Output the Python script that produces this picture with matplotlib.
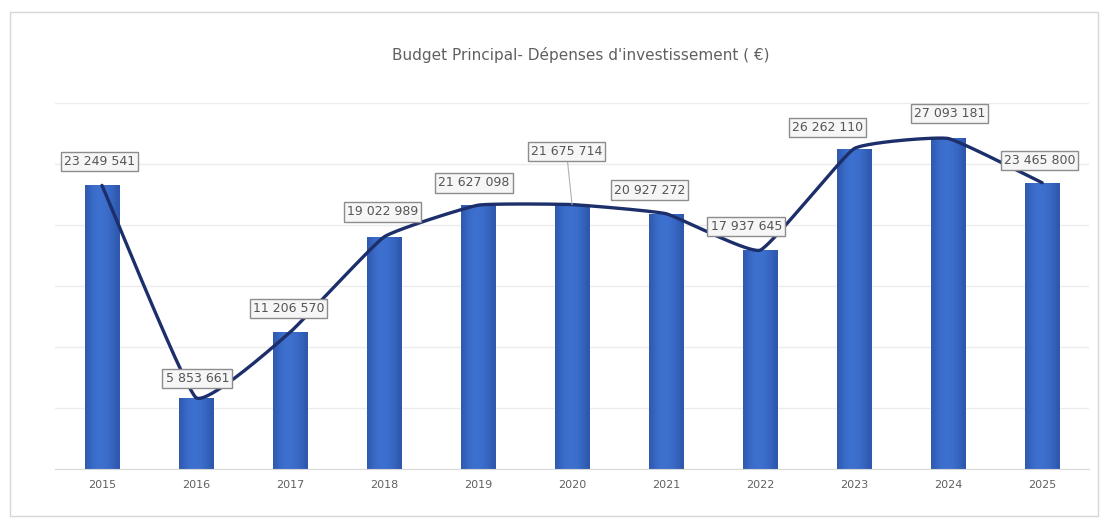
import numpy as np
import matplotlib
matplotlib.use("Agg")
import matplotlib.pyplot as plt
from matplotlib.patches import Rectangle

# Budget principal - dépenses d'investissement (en euros)
years = ["2015", "2016", "2017", "2018", "2019", "2020", "2021", "2022", "2023", "2024", "2025"]
depenses = [23249541, 5853661, 11206570, 19022989, 21627098, 21675714,
            20927272, 17937645, 26262110, 27093181, 23465800]
value_labels = ["23 249 541", "5 853 661", "11 206 570", "19 022 989", "21 627 098",
                "21 675 714", "20 927 272", "17 937 645", "26 262 110", "27 093 181",
                "23 465 800"]

title = "Budget Principal- Dépenses d'investissement ( €)"

plt.rcParams['font.family'] = ['DejaVu Sans']

fig = plt.figure(figsize=(11.08, 5.27), dpi=100)
fig.patch.set_facecolor("white")
# chart frame
fig.add_artist(Rectangle((0.009, 0.02), 0.982, 0.958, transform=fig.transFigure,
                         fill=False, edgecolor="#d6d6d6", linewidth=1.0))

ax = fig.add_axes([0.0496, 0.110, 0.9334, 0.6945])
x = np.arange(len(years))
ax.set_xlim(-0.5, len(years) - 0.5)
ax.set_ylim(0, 30e6)

for gy in range(0, 30000001, 5000000):
    ax.axhline(gy, color="#ececec", linewidth=1.0, zorder=0)

# bars with a horizontal shading across each column
bar_w = 0.37
shade = np.array([0.55, 0.8, 0.95, 1.0, 1.0, 0.95, 0.85, 0.7, 0.5])
base = np.array([0x3d, 0x70, 0xcf]) / 255.0
dark = np.array([0x1f, 0x3f, 0x8a]) / 255.0
grad = np.array([dark + (base - dark) * s for s in shade])[None, :, :]
bars = ax.bar(x, depenses, width=bar_w, color="#3d6fcd", zorder=2)
for b in bars:
    x0, w, h = b.get_x(), b.get_width(), b.get_height()
    im = ax.imshow(grad, extent=[x0, x0 + w, 0, h], aspect="auto", zorder=2.1,
                   interpolation="bicubic")
    im.set_clip_path(b)

# gently smoothed trend line through the bar tops (cardinal spline)
def smooth(xs, ys, tension=0.35, n=40):
    xs = np.asarray(xs, float); ys = np.asarray(ys, float)
    m = len(xs)
    tx = np.zeros(m); ty = np.zeros(m)
    for i in range(m):
        a, b = max(i - 1, 0), min(i + 1, m - 1)
        tx[i] = tension * (xs[b] - xs[a]) / (b - a)
        ty[i] = tension * (ys[b] - ys[a]) / (b - a)
    t = np.linspace(0, 1, n)
    h00 = 2 * t**3 - 3 * t**2 + 1
    h10 = t**3 - 2 * t**2 + t
    h01 = -2 * t**3 + 3 * t**2
    h11 = t**3 - t**2
    ox, oy = [], []
    for i in range(m - 1):
        ox.append(h00 * xs[i] + h10 * tx[i] + h01 * xs[i+1] + h11 * tx[i+1])
        oy.append(h00 * ys[i] + h10 * ty[i] + h01 * ys[i+1] + h11 * ty[i+1])
    return np.concatenate(ox), np.concatenate(oy)

sx, sy = smooth(x, depenses)
ax.plot(sx, sy, color="#1c2f6b", linewidth=2.4, zorder=3, solid_capstyle="round")

# value labels in boxes
offsets = [(-2, 17), (1, 14), (-1, 17), (-1, 18), (-3, 16), (-4, 38),
           (-12, 17), (-10, 17), (-19, 15), (1, 18), (-2, 16)]
for xi, v, lab, (dx, dy) in zip(x, depenses, value_labels, offsets):
    ax.annotate(lab, xy=(xi, v), xytext=(dx, dy), textcoords="offset points",
                ha="center", va="center", fontsize=9, color="#555555", zorder=5,
                bbox=dict(boxstyle="square,pad=0.25", facecolor="#f6f6f6",
                          edgecolor="#8c8c8c", linewidth=1.0),
                arrowprops=dict(arrowstyle="-", color="#b0b0b0", linewidth=0.8,
                                shrinkA=0, shrinkB=0) if dy > 30 else None)

ax.set_xticks(x)
ax.set_xticklabels(years, fontsize=8, color="#606060")
ax.set_yticks([])
ax.tick_params(axis="x", length=0, pad=8)
for s in ["top", "right", "left"]:
    ax.spines[s].set_visible(False)
ax.spines["bottom"].set_color("#d9d9d9")

fig.text(0.524, 0.895, title, ha="center", va="center", fontsize=11, color="#606060")

fig.savefig("out.png", dpi=100, facecolor="white")
